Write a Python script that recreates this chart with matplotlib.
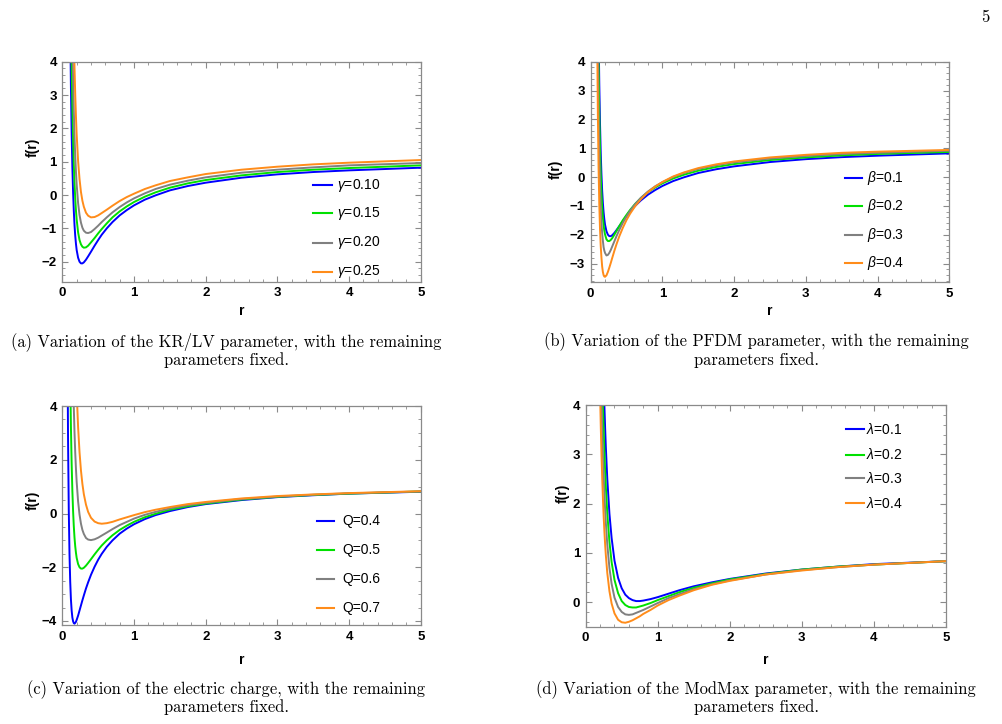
import matplotlib
matplotlib.use('Agg')
import matplotlib.pyplot as plt
from matplotlib.ticker import MultipleLocator

plt.rcParams['font.family'] = ['Liberation Sans', 'DejaVu Sans']
plt.rcParams['font.weight'] = 'bold'
plt.rcParams['mathtext.fontset'] = 'custom'
plt.rcParams['mathtext.rm'] = 'Liberation Sans:normal'
plt.rcParams['mathtext.it'] = 'Liberation Sans:italic:normal'

colors = ['#0000ff', '#00e000', '#808080', '#ff8c1a']

# (a) KR/LV parameter
r_a = [0.10, 0.11, 0.12, 0.13, 0.14, 0.15, 0.16, 0.17, 0.18, 0.19, 0.20, 0.22, 0.24, 0.26, 0.28,
       0.30, 0.33, 0.36, 0.40, 0.45, 0.50, 0.55, 0.62, 0.70, 0.80, 0.90, 1.0, 1.15, 1.3, 1.5,
       1.75, 2.0, 2.5, 3.0, 3.5, 4.0, 5.0]
labels_a = [r'$\gamma$=0.10', r'$\gamma$=0.15', r'$\gamma$=0.20', r'$\gamma$=0.25']
f_g010 = [7.75, 5.11, 3.23, 1.86, 0.85, 0.10, -0.47, -0.90, -1.22, -1.46, -1.65, -1.88, -2.00, -2.05, -2.05,
          -2.02, -1.94, -1.84, -1.70, -1.52, -1.35, -1.19, -1.00, -0.81, -0.61, -0.45, -0.31, -0.14, -0.01, 0.14,
          0.27, 0.37, 0.52, 0.62, 0.69, 0.74, 0.82]
f_g015 = [9.99, 7.99, 5.65, 3.94, 2.65, 1.67, 0.92, 0.35, -0.10, -0.46, -0.73, -1.12, -1.35, -1.48, -1.55,
          -1.58, -1.57, -1.52, -1.42, -1.29, -1.15, -1.02, -0.85, -0.67, -0.49, -0.34, -0.21, -0.05, 0.08, 0.22,
          0.35, 0.45, 0.59, 0.69, 0.76, 0.81, 0.89]
f_g020 = [9.99, 9.99, 8.44, 6.32, 4.71, 3.48, 2.52, 1.77, 1.17, 0.70, 0.32, -0.24, -0.60, -0.83, -0.98,
          -1.07, -1.13, -1.14, -1.11, -1.02, -0.92, -0.81, -0.67, -0.52, -0.36, -0.22, -0.10, 0.05, 0.18, 0.31,
          0.43, 0.53, 0.67, 0.76, 0.83, 0.89, 0.96]
f_g025 = [9.99, 9.99, 9.99, 9.77, 7.70, 6.10, 4.83, 3.82, 3.02, 2.36, 1.82, 1.02, 0.48, 0.09, -0.17,
          -0.35, -0.53, -0.62, -0.67, -0.66, -0.61, -0.54, -0.44, -0.32, -0.18, -0.06, 0.04, 0.18, 0.29, 0.42,
          0.53, 0.63, 0.76, 0.85, 0.92, 0.97, 1.05]

# (b) PFDM parameter
r_b = [0.08, 0.09, 0.10, 0.11, 0.12, 0.13, 0.14, 0.15, 0.16, 0.17, 0.18, 0.19, 0.20, 0.22, 0.24, 0.26,
       0.28, 0.30, 0.33, 0.36, 0.40, 0.45, 0.50, 0.55, 0.62, 0.70, 0.80, 0.90, 1.0, 1.15, 1.3, 1.5,
       1.75, 2.0, 2.5, 3.0, 3.5, 4.0, 5.0]
labels_b = [r'$\beta$=0.1', r'$\beta$=0.2', r'$\beta$=0.3', r'$\beta$=0.4']
f_b01 = [9.99, 9.99, 7.75, 5.11, 3.23, 1.86, 0.85, 0.10, -0.47, -0.90, -1.22, -1.46, -1.65, -1.88, -2.00,
         -2.05, -2.05, -2.02, -1.94, -1.84, -1.70, -1.52, -1.35, -1.19, -1.00, -0.81, -0.61, -0.45, -0.31,
         -0.14, -0.01, 0.14, 0.27, 0.37, 0.52, 0.62, 0.69, 0.74, 0.82]
f_b02 = [9.99, 9.89, 6.36, 3.94, 2.22, 0.99, 0.10, -0.56, -1.04, -1.40, -1.66, -1.86, -1.99, -2.16, -2.22,
         -2.22, -2.18, -2.12, -2.00, -1.87, -1.70, -1.49, -1.31, -1.14, -0.93, -0.73, -0.52, -0.36, -0.22,
         -0.05, 0.08, 0.22, 0.35, 0.45, 0.59, 0.68, 0.75, 0.80, 0.87]
f_b03 = [9.99, 7.65, 4.46, 2.29, 0.78, -0.27, -1.02, -1.56, -1.94, -2.21, -2.43, -2.55, -2.63, -2.72, -2.70,
         -2.63, -2.53, -2.41, -2.23, -2.05, -1.83, -1.58, -1.37, -1.17, -0.94, -0.72, -0.50, -0.32, -0.18,
         0.00, 0.14, 0.28, 0.41, 0.51, 0.64, 0.73, 0.80, 0.84, 0.91]
f_b04 = [9.40, 5.03, 2.21, 0.33, -0.94, -1.80, -2.39, -2.79, -3.10, -3.29, -3.40, -3.45, -3.46, -3.41, -3.29,
         -3.14, -2.98, -2.81, -2.56, -2.33, -2.05, -1.75, -1.49, -1.27, -1.01, -0.77, -0.52, -0.33, -0.17,
         0.02, 0.16, 0.31, 0.44, 0.54, 0.68, 0.77, 0.84, 0.88, 0.94]

# (c) electric charge
r_c = [0.06, 0.07, 0.08, 0.09, 0.10, 0.11, 0.12, 0.13, 0.14, 0.15, 0.16, 0.17, 0.18, 0.19, 0.20, 0.22,
       0.24, 0.26, 0.28, 0.30, 0.33, 0.36, 0.40, 0.45, 0.50, 0.55, 0.62, 0.70, 0.80, 0.90, 1.0, 1.15,
       1.3, 1.5, 1.75, 2.0, 2.5, 3.0, 3.5, 4.0, 5.0]
labels_c = ['Q=0.4', 'Q=0.5', 'Q=0.6', 'Q=0.7']
f_q04 = [9.99, 6.94, 2.71, 0.12, -1.50, -2.53, -3.20, -3.61, -3.87, -4.01, -4.08, -4.10, -4.07, -4.03,
         -3.96, -3.80, -3.61, -3.42, -3.23, -3.05, -2.79, -2.56, -2.28, -1.98, -1.72, -1.50, -1.24, -1.00,
         -0.75, -0.56, -0.40, -0.21, -0.06, 0.09, 0.24, 0.35, 0.50, 0.61, 0.68, 0.74, 0.81]
f_q05 = [9.99, 9.99, 9.99, 9.99, 7.75, 5.11, 3.23, 1.86, 0.85, 0.10, -0.47, -0.90, -1.22, -1.46,
         -1.65, -1.88, -2.00, -2.05, -2.05, -2.02, -1.94, -1.84, -1.70, -1.52, -1.35, -1.19, -1.00, -0.81,
         -0.61, -0.45, -0.31, -0.14, -0.01, 0.14, 0.27, 0.37, 0.52, 0.62, 0.69, 0.74, 0.82]
f_q06 = [9.99, 9.99, 9.99, 9.99, 9.99, 9.99, 9.99, 8.54, 6.61, 5.12, 3.95, 3.01, 2.27, 1.67,
         1.18, 0.45, -0.04, -0.38, -0.61, -0.76, -0.91, -0.97, -0.99, -0.96, -0.90, -0.82, -0.71, -0.58,
         -0.43, -0.31, -0.19, -0.05, 0.06, 0.19, 0.31, 0.40, 0.54, 0.63, 0.70, 0.75, 0.82]
f_q07 = [9.99, 9.99, 9.99, 9.99, 9.99, 9.99, 9.99, 9.99, 9.99, 9.99, 9.18, 7.65, 6.40, 5.38,
         4.53, 3.22, 2.28, 1.60, 1.10, 0.72, 0.33, 0.06, -0.16, -0.30, -0.36, -0.38, -0.36, -0.31,
         -0.22, -0.14, -0.06, 0.05, 0.14, 0.24, 0.35, 0.43, 0.56, 0.65, 0.71, 0.76, 0.83]

# (d) ModMax parameter
r_d = [0.16, 0.17, 0.18, 0.19, 0.20, 0.21, 0.22, 0.23, 0.24, 0.25, 0.26, 0.27, 0.28, 0.30, 0.33, 0.36,
       0.40, 0.45, 0.50, 0.55, 0.60, 0.65, 0.70, 0.75, 0.80, 0.90, 1.0, 1.15, 1.3, 1.5, 1.75, 2.0,
       2.5, 3.0, 3.5, 4.0, 5.0]
labels_d = [r'$\lambda$=0.1', r'$\lambda$=0.2', r'$\lambda$=0.3', r'$\lambda$=0.4']
f_l01 = [9.99, 9.99, 9.99, 9.81, 8.53, 7.44, 6.52, 5.74, 5.06, 4.48, 3.97, 3.53, 3.14, 2.50, 1.79, 1.30,
         0.84, 0.49, 0.28, 0.15, 0.08, 0.04, 0.02, 0.02, 0.03, 0.06, 0.10, 0.17, 0.24, 0.32, 0.40, 0.47,
         0.58, 0.66, 0.72, 0.77, 0.83]
f_l02 = [9.99, 9.99, 9.40, 8.07, 6.95, 6.02, 5.22, 4.55, 3.97, 3.47, 3.04, 2.66, 2.34, 1.80, 1.22, 0.81,
         0.45, 0.18, 0.02, -0.06, -0.10, -0.11, -0.11, -0.09, -0.07, -0.02, 0.04, 0.12, 0.20, 0.29, 0.38, 0.46,
         0.57, 0.66, 0.72, 0.76, 0.83]
f_l03 = [9.99, 9.04, 7.64, 6.49, 5.53, 4.72, 4.05, 3.47, 2.98, 2.56, 2.20, 1.88, 1.61, 1.17, 0.69, 0.37,
         0.09, -0.10, -0.20, -0.25, -0.26, -0.25, -0.22, -0.19, -0.16, -0.09, -0.02, 0.08, 0.16, 0.26, 0.36, 0.44,
         0.56, 0.65, 0.71, 0.76, 0.83]
f_l04 = [8.71, 7.24, 6.03, 5.05, 4.23, 3.54, 2.97, 2.49, 2.08, 1.73, 1.43, 1.17, 0.95, 0.59, 0.22, -0.03,
         -0.23, -0.36, -0.41, -0.42, -0.40, -0.37, -0.33, -0.29, -0.24, -0.16, -0.07, 0.04, 0.13, 0.24, 0.35, 0.43,
         0.56, 0.64, 0.71, 0.76, 0.83]

captions = [
    ('(a) Variation of the KR/LV parameter, with the remaining', 'parameters fixed.'),
    ('(b) Variation of the PFDM parameter, with the remaining', 'parameters fixed.'),
    ('(c) Variation of the electric charge, with the remaining', 'parameters fixed.'),
    ('(d) Variation of the ModMax parameter, with the remaining', 'parameters fixed.'),
]


def style_axes(ax, ylo, yhi, ymaj, ymin):
    ax.set_xlim(0, 5)
    ax.set_ylim(ylo, yhi)
    ax.xaxis.set_major_locator(MultipleLocator(1))
    ax.xaxis.set_minor_locator(MultipleLocator(0.2))
    ax.yaxis.set_major_locator(MultipleLocator(ymaj))
    ax.yaxis.set_minor_locator(MultipleLocator(ymin))
    ax.tick_params(which='both', direction='in', top=True, right=True,
                   colors='#8a8a8a', labelcolor='black', labelsize=9.5)
    ax.tick_params(which='major', length=4.5, width=0.8, pad=4)
    ax.tick_params(which='minor', length=2.2, width=0.6)
    for s in ax.spines.values():
        s.set_color('#8a8a8a')
        s.set_linewidth(0.9)


def add_legend(ax, labels, ys, x0, x1, xt):
    for lab, col, y in zip(labels, colors, ys):
        ax.plot([x0, x1], [y, y], transform=ax.transAxes, color=col, lw=1.5)
        ax.text(xt, y, lab, transform=ax.transAxes, va='center', ha='left',
                fontsize=10, fontweight='normal')


fig = plt.figure(figsize=(10.02, 7.24), dpi=100)

ax_a = fig.add_axes([0.0622, 0.6109, 0.3577, 0.3039])
ax_b = fig.add_axes([0.5895, 0.6101, 0.3579, 0.3047])
ax_c = fig.add_axes([0.0622, 0.1367, 0.3577, 0.3025])
ax_d = fig.add_axes([0.5845, 0.1344, 0.3596, 0.3062])

for f_vals, col in zip([f_g010, f_g015, f_g020, f_g025], colors):
    ax_a.plot(r_a, f_vals, color=col, lw=1.4)
for f_vals, col in zip([f_b01, f_b02, f_b03, f_b04], colors):
    ax_b.plot(r_b, f_vals, color=col, lw=1.4)
for f_vals, col in zip([f_q04, f_q05, f_q06, f_q07], colors):
    ax_c.plot(r_c, f_vals, color=col, lw=1.4)
for f_vals, col in zip([f_l01, f_l02, f_l03, f_l04], colors):
    ax_d.plot(r_d, f_vals, color=col, lw=1.4)

style_axes(ax_a, -2.6, 4, 1, 0.2)
style_axes(ax_b, -3.65, 4, 1, 0.2)
style_axes(ax_c, -4.15, 4, 2, 0.5)
style_axes(ax_d, -0.5, 4, 1, 0.2)

add_legend(ax_a, labels_a, [0.4395, 0.3109, 0.1773, 0.0455], 0.699, 0.753, 0.766)
add_legend(ax_b, labels_b, [0.4733, 0.3459, 0.2144, 0.0861], 0.709, 0.756, 0.770)
add_legend(ax_c, labels_c, [0.4749, 0.3425, 0.2100, 0.0776], 0.710, 0.758, 0.780)
add_legend(ax_d, labels_d, [0.8904, 0.7745, 0.6694, 0.5566], 0.722, 0.772, 0.778)

# axis labels
for ax, xl, yl in [(ax_a, -0.082, 0.612), (ax_b, -0.097, 0.514), (ax_c, -0.082, 0.571), (ax_d, -0.063, 0.603)]:
    ax.text(xl, yl, 'f(r)', rotation=90, ha='center', va='center', transform=ax.transAxes, fontsize=10)
for ax, yl in [(ax_a, -0.133), (ax_b, -0.131), (ax_c, -0.160), (ax_d, -0.150)]:
    ax.text(0.5, yl, 'r', ha='center', va='center', transform=ax.transAxes, fontsize=10)

# captions
cap_pos = [(226, 342, 360), (756, 342, 360), (226, 690, 707), (756, 690, 707)]
for (l1, l2), (cx, y1, y2) in zip(captions, cap_pos):
    fig.text(cx / 1002, 1 - y1 / 724, l1, ha='center', va='center', family='cmr10',
             fontsize=11.9, fontweight='normal')
    fig.text(cx / 1002, 1 - y2 / 724, l2, ha='center', va='center', family='cmr10',
             fontsize=11.9, fontweight='normal')
fig.text(985 / 1002, 1 - 17 / 724, '5', ha='center', va='center', family='cmr10',
         fontsize=12, fontweight='normal')

fig.savefig('out.png', dpi=100)
